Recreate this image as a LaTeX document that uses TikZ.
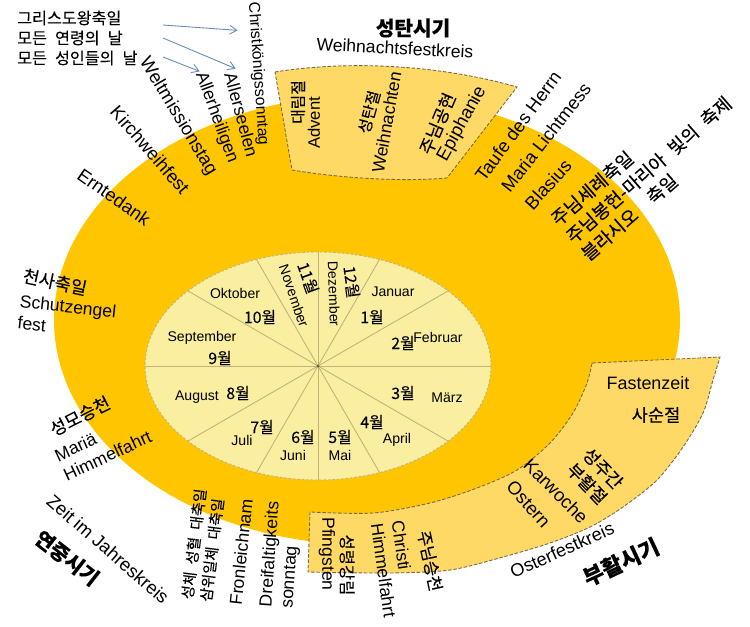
\documentclass[tikz,border=0pt]{standalone}
\usepackage{fontspec}
\setmainfont{Liberation Sans}
\newfontfamily\kr{Noto Sans CJK KR}[FakeBold=0.15]
\usetikzlibrary{arrows.meta,calc}

\begin{document}
\begin{tikzpicture}[x=0.02cm, y=-0.02cm,
  de/.style={inner sep=0.5pt, font=\fontsize{#1}{#1}\selectfont\setlength\baselineskip{1.2\baselineskip}},
  ko/.style={inner sep=0.5pt, font=\kr\fontsize{#1}{#1}\selectfont\setlength\baselineskip{1.25\baselineskip}},
  kob/.style={inner sep=0.5pt, font=\kr\bfseries\fontsize{#1}{#1}\selectfont},
  season/.style={fill=seasonfill, draw=boxline, dash pattern=on 2pt off 1pt, line width=0.5pt},
  arr/.style={draw=arrowblue, line width=0.5pt, -{Straight Barb[length=4pt,width=5pt]}}]
\definecolor{ring}{RGB}{255,198,0}
\definecolor{monthfill}{RGB}{250,238,160}
\definecolor{seasonfill}{RGB}{255,217,102}
\definecolor{spokecol}{RGB}{195,178,122}
\definecolor{boxline}{RGB}{120,105,70}
\definecolor{arrowblue}{RGB}{105,138,190}
\useasboundingbox (0,0) rectangle (750,626);
\fill[ring] (367,320) ellipse[x radius=313, y radius=225];
\draw[season] (275,72) .. controls (350,60) and (440,65) .. (517,87) -- (447,178) .. controls (400,182) and (340,178) .. (292,170) -- cycle;
\draw[season] (592,363) -- plot[smooth] coordinates {(720,357) (713,380) (703,413) (683,447) (657,480) (623,507) (590,527) (550,543) (503,557) (450,570) (390,573) (308,572)} -- plot[smooth] coordinates {(310,512) (373,513) (430,503) (477,488) (517,470) (550,443) (573,413) (587,383) (592,363)} -- cycle;
\fill[monthfill] (318,366) ellipse[x radius=173, y radius=114];
\begin{scope}
\clip (318,366) ellipse[x radius=173, y radius=114];
\foreach \a in {0,30,...,330} \draw[spokecol, line width=0.5pt] (318,366) -- ++(\a:260);
\end{scope}
\draw[spokecol, dash pattern=on 1.5pt off 1pt, line width=0.5pt] (318,366) ellipse[x radius=173, y radius=114];
\fill[spokecol!50!black] (318,366) circle[radius=1.5];

\foreach \x/\y/\m [count=\i] in {393/292/Januar, 438/337/Februar, 447/398/März, 397/440/April, 340/455/Mai, 293/455/Juni, 242/440/Juli, 197/397/August, 202/338/September, 235/293/Oktober}
  \node[de=8] (de\i) at (\x,\y) {\m};
\foreach \x/\y [count=\i] in {372/317, 403/343, 403/393, 372/422, 340/437, 303/437, 262/427, 238/393, 220/358, 260/317}
  \node[ko=9] (ko\i) at (\x,\y) {\i{}월};
\node[de=8, rotate=-71] (november) at (294,296) {November};
\node[ko=9, rotate=-70] (ko11) at (308,278) {11월};
\node[de=8, rotate=-88] (dezember) at (334,294) {Dezember};
\node[ko=9, rotate=-82] (ko12) at (351.5,282) {12월};

\node[kob=11.5] (weihzeit) at (413,28) {성탄시기};
\node[de=10, rotate=-3] (weihkreis) at (395,48) {Weihnachtsfestkreis};
\node[ko=9, rotate=90] (kadvent) at (298,102) {대림절};
\node[de=9.5, rotate=90] (advent) at (314,123) {Advent};
\node[ko=9, rotate=75] (kweihnachten) at (369,112) {성탄절};
\node[de=10, rotate=80] (weihnachten) at (386.5,122.5) {Weihnachten};
\node[ko=10, rotate=67] (kepiphanie) at (437.5,123.5) {주님공현};
\node[de=10.5, rotate=61] (epiphanie) at (462,124) {Epiphanie};

\node[de=10.5, rotate=53.5] (taufe) at (518,126) {Taufe des Herrn};
\node[de=10.4, rotate=52] (lichtmess) at (546,137.5) {Maria Lichtmess};
\node[de=10.5, rotate=48] (blasius) at (548,184.5) {Blasius};
\node[ko=10.5, rotate=41, align=left, anchor=west] (kfebruar) at (568,240) {주님세례축일\\주님봉헌-마리아\enspace 빛의\enspace 축제\\블라시오\quad 축일};

\node[de=10.2] (fastenzeit) at (648,383) {Fastenzeit};
\node[ko=10] (kfasten) at (656,415) {사순절};
\node[ko=10, rotate=-46, align=left] (kkarwoche) at (595,476) {성주간\\부활절};
\node[de=10.5, rotate=-45] (karwoche) at (556,491) {Karwoche};
\node[de=10.5, rotate=-48] (ostern) at (528.5,504) {Ostern};
\node[ko=9.5, rotate=-78] (kchristi) at (430,561) {주님승천};
\node[de=10, rotate=-82, align=left] (christi) at (394,569) {Christi\\Himmelfahrt};
\node[ko=9.4, rotate=-90] (kpfingsten) at (347,565) {성령강림};
\node[de=10, rotate=-90] (pfingsten) at (327,554) {Pfingsten};
\node[de=10.3, rotate=24] (osterkreis) at (562,550) {Osterfestkreis};
\node[kob=12.5, rotate=25] (osterzeit) at (621,562) {부활시기};

\node[de=10, rotate=86, align=left] (dreifaltigkeit) at (281,555) {Dreifaltigkeits\\sonntag};
\node[de=10, rotate=84] (fronleichnam) at (241,552) {Fronleichnam};
\node[ko=8.5, rotate=83, align=left] (kfronleichnam) at (203,545) {성체\enspace 성혈\enspace 대축일\\삼위일체\enspace 대축일};
\node[de=10.5, rotate=-41] (jahreskreis) at (108,549) {Zeit im Jahreskreis};
\node[kob=11.5, rotate=-38] (jahrzeit) at (67,558) {연중시기};
\node[ko=10, rotate=27] (kmaria) at (80,416) {성모승천};
\node[de=10, rotate=25, align=left] (himmelfahrt) at (103,446) {Mariä\\Himmelfahrt};
\node[ko=10, rotate=-12] (kengel) at (55,282) {천사축일};
\node[de=10, rotate=-6, align=left] (schutzengel) at (67,317) {Schutzengel\\fest};

\node[de=10.5, rotate=-35] (erntedank) at (114,197) {Erntedank};
\node[de=10.5, rotate=-49] (kirchweih) at (150,150) {Kirchweihfest};
\node[de=10.5, rotate=-59] (weltmission) at (178,116.5) {Weltmissionstag};
\node[de=10, rotate=-70] (allerheiligen) at (216.5,117.5) {Allerheiligen};
\node[de=10, rotate=-75] (allerseelen) at (241.5,114.5) {Allerseelen};
\node[de=9, rotate=-86] (christkoenig) at (258,74) {Christkönigssonntag};

\node[ko=9.2, anchor=west] (kkoenig) at (16,18) {그리스도왕축일};
\node[ko=9.2, anchor=west] (kseelen) at (16,38) {모든\enspace 연령의\enspace 날};
\node[ko=9.2, anchor=west] (kheiligen) at (16,58) {모든\enspace 성인들의\enspace 날};
\coordinate (from1) at (163,25);
\coordinate (from2) at (163,38);
\coordinate (from3) at (163,57);
\draw[arr, shorten >=5pt] (from1) -- ($(christkoenig.south west)!0.2!(christkoenig.south east)$);
\draw[arr, shorten >=1pt] (from2) -- (allerseelen.north west);
\draw[arr] (from3) -- (allerheiligen.west);
\end{tikzpicture}
\end{document}
